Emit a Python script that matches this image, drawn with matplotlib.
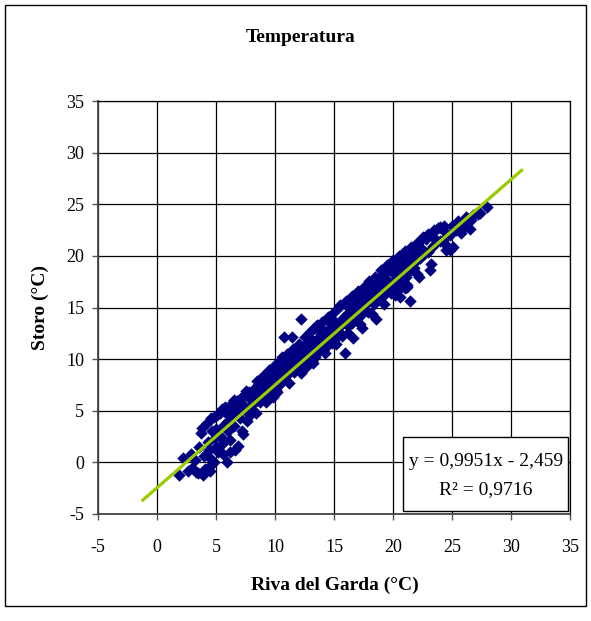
import matplotlib
matplotlib.use("Agg")
import matplotlib.pyplot as plt
from matplotlib.patches import Rectangle

# Daily mean temperatures (°C): Riva del Garda (x) vs Storo (y)
riva_garda = [
    1.9, 2.2, 2.6, 3.0, 3.2, 3.5, 3.6, 3.8, 3.9, 4.0, 4.1, 4.3, 4.4, 4.5, 4.6,
    4.7, 4.8, 4.9, 5.0, 5.1, 3.3, 4.2, 4.6, 5.0, 2.9, 3.7, 4.4, 4.8, 5.2, 5.3,
    5.4, 5.5, 5.6, 5.7, 5.8, 5.9, 6.0, 6.1, 6.2, 6.3, 6.4, 6.5, 6.6, 6.7, 6.8,
    6.9, 7.0, 7.1, 7.2, 7.3, 7.4, 7.5, 7.6, 7.7, 7.8, 7.9, 8.0, 5.5, 6.0, 6.5,
    7.0, 7.5, 8.0, 6.2, 7.3,
    8.1, 8.2, 8.3, 8.4, 8.5, 8.6, 8.7, 8.8, 8.9, 9.0, 9.1, 9.2, 9.3, 9.4, 9.5,
    9.6, 9.7, 9.8, 9.9, 10.0, 10.1, 10.2, 10.3, 10.4, 10.5, 10.6, 10.7, 10.8, 10.9, 11.0,
    11.1, 11.2, 11.3, 11.4, 11.5, 11.6, 11.7, 11.8, 11.9, 12.0,
    12.1, 12.2, 12.3, 12.4, 12.5, 12.6, 12.7, 12.8, 12.9, 13.0, 13.1, 13.2, 13.3, 13.4, 13.5,
    13.6, 13.7, 13.8, 13.9, 14.0, 14.1, 14.2, 14.3, 14.4, 14.5, 14.6, 14.7, 14.8, 14.9, 15.0,
    15.1, 15.2, 15.3, 15.4, 15.5, 15.6, 15.7, 15.8, 15.9, 16.0, 12.2, 13.0, 14.0, 15.0, 12.3,
    16.1, 16.2, 16.3, 16.4, 16.5, 16.6, 16.7, 16.8, 16.9, 17.0, 17.1, 17.2, 17.3, 17.4, 17.5,
    17.6, 17.7, 17.8, 17.9, 18.0, 18.1, 18.2, 18.3, 18.4, 18.5, 18.6, 18.7, 18.8, 18.9, 19.0,
    19.1, 19.2, 19.3, 19.4, 19.5, 19.6, 19.7, 19.8, 19.9, 20.0, 16.5, 17.2, 18.0, 19.0, 16.0,
    20.1, 20.2, 20.3, 20.4, 20.5, 20.6, 20.7, 20.8, 20.9, 21.0, 21.1, 21.2, 21.3, 21.4, 21.5,
    21.6, 21.7, 21.8, 21.9, 22.0, 22.2, 22.3, 22.4, 22.6, 22.8, 23.0, 23.2, 23.4, 23.5, 23.6,
    23.8, 24.0, 20.5, 21.0, 22.0, 20.6, 23.1,
    24.2, 24.4, 24.5, 24.8, 25.0, 25.1, 25.3, 25.5, 25.7, 26.0, 26.2, 26.3, 26.5, 26.8, 27.2,
    28.0, 24.6, 25.8, 24.0, 26.6, 27.4, 24.8,
    9.0, 9.5, 10.0, 10.5, 11.0, 11.5, 12.0, 12.5, 13.0, 13.5, 14.0, 14.5, 15.0, 15.5, 16.0,
    16.5, 17.0, 17.5, 18.0, 18.5, 19.0, 19.5, 20.0, 20.5, 21.0, 21.5, 22.0, 22.5, 23.0, 23.5,
    8.5, 7.5, 6.5, 5.8, 10.8, 13.2, 16.8, 19.3, 22.2, 24.3,
    9.2, 10.2, 11.2, 12.2, 13.2, 14.2, 15.2, 16.2, 17.2, 18.2, 19.2, 20.2, 21.2, 22.2, 23.2,
]
storo = [
    -1.2, 0.4, -0.8, -0.5, 0.2, -1.0, 1.5, 3.3, -1.2, 0.6, -0.6, 2.0, 1.2, -0.8, 4.3,
    3.0, 0.0, 2.4, 1.5, 4.6, -0.9, 3.8, -0.3, 3.2, 0.8, 2.8, 0.5, 4.4, 1.0, 4.8,
    2.5, 5.2, 0.8, 3.6, 4.9, 0.0, 3.0, 5.4, 2.2, 4.4, 5.8, 3.5, 1.2, 5.0, 5.9,
    1.6, 4.3, 6.2, 3.0, 2.7, 5.5, 6.6, 4.0, 5.2, 6.8, 4.6, 6.0, 1.8, 4.0, 4.8,
    5.6, 5.0, 5.5, 1.0, 6.4,
    5.0, 6.3, 7.2, 4.8, 6.0, 7.5, 5.8, 6.8, 6.2, 7.8, 6.4, 7.0, 8.0, 6.6, 7.4,
    8.3, 6.9, 6.3, 7.8, 8.6, 7.0, 8.0, 9.0, 7.6, 8.4, 10.2, 8.0, 9.2, 8.5, 9.7,
    8.6, 10.4, 9.0, 12.1, 9.6, 8.8, 9.9, 10.6, 9.2, 10.1,
    9.0, 13.9, 11.1, 9.6, 10.4, 9.2, 11.6, 10.0, 10.9, 12.0, 9.8, 10.7, 11.3, 10.2, 11.9,
    13.3, 10.8, 11.5, 12.4, 11.0, 12.6, 11.8, 12.2, 13.8, 11.4, 12.9, 12.0, 11.6, 13.1, 12.4,
    13.6, 12.1, 13.0, 12.6, 15.2, 13.3, 12.2, 14.0, 10.6, 13.5, 10.3, 10.6, 12.9, 11.9, 8.9,
    14.4, 13.2, 15.0, 14.0, 13.5, 12.0, 14.8, 15.3, 13.9, 14.6, 15.6, 14.2, 15.9, 13.0, 15.2,
    14.9, 16.2, 15.5, 14.6, 16.5, 17.2, 15.9, 16.8, 15.3, 16.4, 13.9, 17.4, 16.0, 18.0, 16.6,
    17.8, 16.2, 17.0, 18.4, 16.8, 17.6, 18.8, 16.4, 18.9, 17.5, 14.7, 15.0, 15.6, 17.3, 14.1,
    18.2, 17.0, 19.0, 19.4, 17.8, 18.9, 17.3, 19.6, 18.4, 19.8, 18.0, 17.2, 19.2, 15.6, 18.6,
    20.0, 19.4, 18.8, 20.4, 19.6, 21.3, 19.8, 20.8, 20.2, 21.6, 20.4, 22.0, 21.0, 22.4, 21.6,
    22.7, 22.8, 16.8, 16.9, 18.2, 16.0, 18.6,
    21.5, 22.3, 20.6, 22.0, 22.9, 20.9, 22.5, 23.4, 22.4, 23.0, 23.8, 23.7, 22.6, 24.0, 24.1,
    24.7, 21.0, 22.2, 21.4, 23.5, 24.2, 20.6,
    8.4, 8.9, 9.4, 9.9, 10.5, 11.0, 11.5, 12.1, 12.6, 13.1, 13.6, 14.1, 14.6, 15.1, 15.6,
    16.1, 16.6, 17.0, 17.6, 18.0, 18.6, 19.1, 19.6, 20.0, 20.5, 20.9, 21.2, 21.8, 22.1, 22.5,
    7.9, 6.9, 6.0, 5.4, 12.1, 12.9, 16.0, 18.3, 20.9, 22.9,
    5.8, 6.8, 7.7, 8.7, 9.6, 10.6, 11.5, 12.5, 13.4, 14.4, 15.3, 16.2, 17.0, 18.0, 19.2,
]

# Linear trend line (least squares fit reported in the box)
slope = 0.9951
intercept = -2.459
r_squared = 0.9716
trend_x = [-1.3, 31.0]

x_ticks = [-5, 0, 5, 10, 15, 20, 25, 30, 35]
y_ticks = [-5, 0, 5, 10, 15, 20, 25, 30, 35]

serif = ["Liberation Serif", "DejaVu Serif"]
W, H = 591, 621
fig = plt.figure(figsize=(W / 100, H / 100), dpi=100)
fig.patch.set_facecolor("white")

# chart border
fig.patches.append(Rectangle((5 / W, 1 - 606 / H), 581 / W, 601 / H,
                             transform=fig.transFigure, fill=False,
                             edgecolor="black", linewidth=1.0))

ax = fig.add_axes([98 / W, 1 - 514 / H, 472 / W, 413 / H])
ax.set_xlim(-5, 35)
ax.set_ylim(-5, 35)
ax.set_xticks(x_ticks)
ax.set_yticks(y_ticks)
ax.set_xticklabels([str(t) for t in x_ticks], family=serif, fontsize=13)
ax.set_yticklabels([str(t) for t in y_ticks], family=serif, fontsize=13)
ax.tick_params(direction="out", length=4, width=1, color="#555555")
ax.tick_params(axis="x", pad=14)
ax.tick_params(axis="y", pad=6)
ax.grid(True, color="black", linewidth=0.9)
ax.set_axisbelow(True)
for side in ("top", "right"):
    ax.spines[side].set_color("black")
    ax.spines[side].set_linewidth(0.9)
for side in ("left", "bottom"):
    ax.spines[side].set_color("#444444")
    ax.spines[side].set_linewidth(1.3)

ax.scatter(riva_garda, storo, marker="D", s=40, color="#000080",
           linewidths=0, zorder=3)

trend_y = [slope * v + intercept for v in trend_x]
ax.plot(trend_x, trend_y, color="#99CC00", linewidth=2.3, zorder=4,
        solid_capstyle="butt")

# equation box
fig.patches.append(Rectangle((403 / W, 1 - 511 / H), 165 / W, 74 / H,
                             transform=fig.transFigure, facecolor="white",
                             edgecolor="black", linewidth=1.0, zorder=5))
eq = f"y = {slope:.4f}x - {abs(intercept):.3f}".replace(".", ",")
r2 = f"R\u00b2 = {r_squared:.4f}".replace(".", ",")
fig.text(486 / W, 1 - 462 / H, eq, ha="center", va="center",
         family=serif, fontsize=14, zorder=6)
fig.text(486 / W, 1 - 490 / H, r2, ha="center", va="center",
         family=serif, fontsize=14, zorder=6)

fig.text(301 / W, 1 - 37 / H, "Temperatura", ha="center", va="center",
         family=serif, fontsize=14, fontweight="bold")
fig.text(335 / W, 1 - 585 / H, "Riva del Garda (°C)", ha="center",
         va="center", family=serif, fontsize=14, fontweight="bold")
fig.text(40 / W, 1 - 308 / H, "Storo (°C)", ha="center", va="center",
         rotation=90, family=serif, fontsize=14, fontweight="bold")

fig.savefig("out.png", dpi=100)
